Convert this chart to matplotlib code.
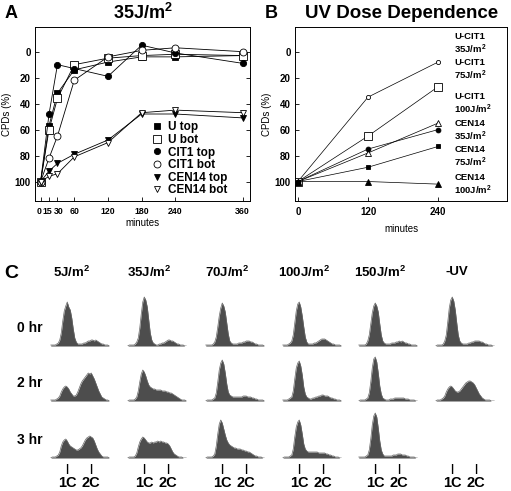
import matplotlib.pyplot as plt
import matplotlib.transforms as mtransforms
import numpy as np

plt.rcParams["font.family"] = ["Liberation Sans", "DejaVu Sans"]
plt.rcParams["font.weight"] = "bold"
plt.rcParams["mathtext.fontset"] = "custom"
plt.rcParams["mathtext.bf"] = "Liberation Sans:bold"
plt.rcParams["mathtext.rm"] = "Liberation Sans:bold"

W, H = 511, 491

# Panel A: repair at 35 J/m2
MINUTES = [0, 15, 30, 60, 120, 180, 240, 360]
U_TOP = [100, 57, 32, 14, 8, 4, 4, 3]
U_BOT = [100, 60, 36, 10, 5, 3, 2, 3]
CIT1_TOP = [100, 48, 10, 13, 19, -5, 1, 9]
CIT1_BOT = [100, 82, 65, 22, 4, -1, -3, 0]
CEN14_TOP = [100, 92, 86, 79, 68, 48, 48, 51]
CEN14_BOT = [100, 96, 94, 81, 70, 47, 45, 47]

# Panel B: dose dependence
DOSE_MIN = [0, 120, 240]
UCIT1_35 = [100, 35, 8]
UCIT1_75 = [100, 65, 27]
UCIT1_100 = [100, 78, 55]
CEN14_35 = [100, 75, 60]
CEN14_75 = [100, 89, 73]
CEN14_100 = [100, 100, 102]
B_LABELS = ["U-CIT1\n35J/m$^\\mathbf{2}$", "U-CIT1\n75J/m$^\\mathbf{2}$",
            "U-CIT1\n100J/m$^\\mathbf{2}$", "CEN14\n35J/m$^\\mathbf{2}$",
            "CEN14\n75J/m$^\\mathbf{2}$", "CEN14\n100J/m$^\\mathbf{2}$"]
B_LABEL_Y = [-6, 14, 40, 61, 81, 103]

# Panel C: FACS profiles (bin heights)
C_COLS = ["5J/m$^\\mathbf{2}$", "35J/m$^\\mathbf{2}$", "70J/m$^\\mathbf{2}$",
          "100J/m$^\\mathbf{2}$", "150J/m$^\\mathbf{2}$", "-UV"]
C_ROWS = ["0 hr", "2 hr", "3 hr"]
HIST_0HR = [
    [1, 1, 1, 1, 2, 3, 6, 13, 25, 35, 40, 44, 39, 36, 28, 17, 8, 4, 2, 2,
     2, 2, 3, 3, 4, 5, 5, 6, 6, 5, 6, 5, 4, 3, 2, 2, 1, 1, 1, 0],
    [0, 1, 1, 1, 1, 2, 4, 8, 18, 32, 44, 49, 46, 39, 26, 13, 6, 3, 2, 1,
     1, 2, 2, 3, 3, 4, 5, 6, 6, 5, 5, 4, 3, 2, 2, 1, 1, 1, 0, 0],
    [1, 1, 1, 1, 1, 2, 4, 9, 19, 30, 38, 43, 40, 34, 23, 12, 5, 3, 2, 2,
     2, 2, 3, 3, 3, 4, 4, 5, 5, 5, 4, 4, 3, 2, 2, 1, 1, 1, 1, 0],
    [1, 1, 1, 1, 2, 3, 5, 11, 23, 35, 42, 44, 39, 30, 19, 9, 4, 2, 2, 2,
     2, 3, 3, 4, 5, 6, 7, 7, 7, 6, 5, 4, 3, 2, 2, 1, 1, 1, 1, 0],
    [1, 1, 1, 1, 1, 2, 5, 11, 22, 33, 40, 43, 40, 34, 22, 11, 5, 3, 2, 2,
     2, 2, 3, 3, 3, 4, 4, 5, 4, 5, 4, 3, 3, 2, 2, 1, 1, 1, 1, 0],
    [0, 1, 1, 1, 1, 2, 5, 11, 24, 38, 46, 49, 45, 36, 23, 11, 5, 3, 2, 2,
     2, 2, 3, 3, 4, 4, 5, 5, 5, 5, 4, 4, 3, 2, 2, 1, 1, 1, 0, 0],
]
HIST_2HR = [
    [1, 1, 1, 1, 2, 3, 5, 9, 12, 14, 15, 14, 12, 9, 7, 5, 5, 6, 9, 13,
     17, 20, 22, 24, 26, 28, 27, 28, 25, 22, 18, 14, 10, 7, 4, 3, 2, 1, 1, 0],
    [0, 1, 1, 1, 1, 2, 4, 10, 19, 27, 31, 29, 25, 20, 16, 14, 13, 12, 12, 11,
     11, 11, 11, 10, 10, 10, 9, 9, 8, 8, 7, 6, 5, 4, 3, 2, 1, 1, 1, 0],
    [0, 1, 1, 1, 1, 2, 3, 8, 19, 31, 38, 41, 37, 28, 17, 9, 6, 5, 4, 4,
     4, 4, 4, 4, 4, 5, 5, 5, 4, 4, 4, 3, 3, 2, 2, 1, 1, 1, 1, 0],
    [1, 1, 1, 1, 2, 3, 4, 10, 22, 33, 38, 40, 35, 26, 14, 7, 4, 3, 2, 2,
     3, 3, 4, 4, 5, 5, 6, 6, 5, 5, 5, 4, 3, 3, 2, 2, 1, 1, 1, 0],
    [0, 1, 1, 1, 1, 2, 3, 8, 19, 33, 42, 44, 39, 28, 15, 7, 3, 2, 1, 1,
     1, 2, 2, 2, 3, 3, 3, 3, 3, 3, 3, 2, 2, 2, 1, 1, 1, 1, 0, 0],
    [0, 1, 1, 1, 2, 3, 5, 9, 12, 14, 15, 14, 12, 10, 9, 9, 10, 12, 14, 16,
     18, 19, 20, 20, 19, 18, 16, 13, 10, 7, 5, 3, 2, 1, 1, 1, 1, 0, 0, 0],
]
HIST_3HR = [
    [0, 1, 1, 1, 2, 3, 6, 12, 16, 18, 19, 17, 14, 12, 11, 10, 9, 8, 8, 9,
     10, 12, 15, 18, 20, 21, 22, 21, 20, 17, 13, 9, 6, 4, 2, 1, 1, 1, 1, 0],
    [0, 1, 1, 1, 1, 2, 5, 11, 16, 19, 21, 20, 18, 16, 15, 15, 16, 15, 16, 16,
     17, 16, 17, 16, 16, 15, 15, 14, 12, 9, 6, 4, 3, 2, 1, 1, 1, 0, 0, 0],
    [0, 1, 1, 1, 1, 2, 4, 12, 24, 34, 38, 35, 29, 23, 18, 15, 13, 12, 11, 10,
     10, 9, 9, 9, 8, 8, 7, 7, 6, 6, 5, 4, 3, 2, 2, 1, 1, 1, 0, 0],
    [0, 1, 1, 1, 1, 2, 3, 9, 21, 31, 36, 38, 33, 24, 14, 9, 7, 6, 6, 6,
     6, 6, 6, 6, 5, 5, 5, 5, 5, 4, 4, 3, 3, 2, 2, 1, 1, 1, 0, 0],
    [1, 1, 1, 1, 1, 2, 3, 8, 19, 33, 42, 45, 41, 30, 17, 8, 4, 2, 2, 2,
     2, 2, 2, 3, 3, 3, 4, 4, 4, 3, 3, 3, 2, 2, 1, 1, 1, 1, 0, 0],
    None,
]


def add_ax(fig, x0, y0, x1, y1):
    return fig.add_axes([x0 / W, 1 - y1 / H, (x1 - x0) / W, (y1 - y0) / H])


def ftext(fig, x, y, s, **kw):
    fig.text(x / W, 1 - y / H, s, **kw)


fig = plt.figure(figsize=(W / 100, H / 100), dpi=100)

# ---- Panel A
ax = add_ax(fig, 35, 27, 250, 201)
series_a = [
    (U_TOP, "s", "black", 4.5, "U top"),
    (U_BOT, "s", "white", 5.5, "U bot"),
    (CIT1_TOP, "o", "black", 4.5, "CIT1 top"),
    (CIT1_BOT, "o", "white", 5, "CIT1 bot"),
    (CEN14_TOP, "v", "black", 4.5, "CEN14 top"),
    (CEN14_BOT, "v", "white", 5, "CEN14 bot"),
]
for ys, mk, fc, ms, lab in series_a:
    ax.plot(MINUTES, ys, color="black", lw=0.6, marker=mk, mfc=fc,
            mec="black", mew=0.6, ms=ms, label=lab)
ax.set_xlim(-10, 373)
ax.set_ylim(115, -19)
ax.set_xticks(MINUTES)
ax.set_yticks([0, 20, 40, 60, 80, 100])
ax.tick_params(direction="in", length=3, width=0.6, labelsize=7, pad=3,
               right=True)
ax.tick_params(axis="x", pad=4, labelsize=6.3)
# the 15 and 30 labels sit very close; nudge them apart a little
for lab, dx in zip(ax.get_xticklabels()[:3], [-1.5, -1.2, 1.2]):
    off = mtransforms.ScaledTranslation(dx / 100, 0, fig.dpi_scale_trans)
    lab.set_transform(lab.get_transform() + off)
for s in ax.spines.values():
    s.set_linewidth(0.7)
ax.set_ylabel("CPDs (%)", fontsize=7, labelpad=2)
ax.set_xlabel("minutes", fontsize=7, labelpad=2)
leg = ax.legend(loc="lower left", bbox_to_anchor=(0.53, 0.0), frameon=False,
                fontsize=8.5, handlelength=0.6, handletextpad=0.6,
                labelspacing=0.05, borderaxespad=0.0)
for h in leg.legend_handles:
    h.set_linestyle("none")
ax.set_title("35J/m$^\\mathbf{2}$", fontsize=13, fontweight="bold", pad=6)
ftext(fig, 5, 13, "A", fontsize=13, fontweight="bold", va="center")

# ---- Panel B
bx = add_ax(fig, 295, 27, 507, 201)
series_b = [
    (UCIT1_35, "o", "white", 3),
    (UCIT1_75, "s", "white", 6),
    (UCIT1_100, "^", "white", 4.5),
    (CEN14_35, "o", "black", 3.5),
    (CEN14_75, "s", "black", 3.5),
    (CEN14_100, "^", "black", 4.5),
]
for ys, mk, fc, ms in series_b:
    bx.plot(DOSE_MIN, ys, color="black", lw=0.5, marker=mk, mfc=fc,
            mec="black", mew=0.6, ms=ms)
for lab, y in zip(B_LABELS, B_LABEL_Y):
    bx.text(268, y, lab, fontsize=6.8, fontweight="bold", va="center",
            ha="left", linespacing=1.15)
bx.set_xlim(-5, 358)
bx.set_ylim(115, -19)
bx.set_xticks(DOSE_MIN)
bx.set_yticks([0, 20, 40, 60, 80, 100])
bx.tick_params(direction="in", length=3, width=0.6, labelsize=7, pad=3)
bx.tick_params(axis="x", pad=4)
for s in bx.spines.values():
    s.set_linewidth(0.7)
bx.set_ylabel("CPDs (%)", fontsize=7, labelpad=2)
bx.set_xlabel("minutes", fontsize=7, labelpad=5)
ftext(fig, 265, 13, "B", fontsize=13, fontweight="bold", va="center")
ftext(fig, 402, 13, "UV Dose Dependence", fontsize=13.5, fontweight="bold",
      va="center", ha="center")

# ---- Panel C
col_x = [50, 127, 205, 282, 358, 435]
base_y = [346, 401, 458]
hist_w, hist_h = 60, 50
ftext(fig, 4, 273, "C", fontsize=14, fontweight="bold", va="center")
for c, (x0, name) in enumerate(zip(col_x, C_COLS)):
    ftext(fig, x0 + 22, 272, name, fontsize=9.5, fontweight="bold",
          ha="center", va="center")
    for r, rows in enumerate([HIST_0HR, HIST_2HR, HIST_3HR]):
        vals = rows[c]
        if vals is None:
            continue
        hx = add_ax(fig, x0, base_y[r] - hist_h, x0 + hist_w, base_y[r])
        bins = np.arange(len(vals))
        hx.fill_between(bins, vals, color="#4d4d4d", lw=0)
        hx.plot(bins, vals, color="#666666", lw=0.5)
        hx.set_xlim(-0.5, len(vals) - 0.5)
        hx.set_ylim(0, hist_h)
        hx.axis("off")
    for lab, off in [("1C", 17), ("2C", 41)]:
        ftext(fig, x0 + off, 469, "|", fontsize=8, ha="center", va="center")
        ftext(fig, x0 + off, 483, lab, fontsize=10.5, fontweight="bold",
              ha="center", va="center")
for r, lab in enumerate(C_ROWS):
    ftext(fig, 17, base_y[r] - 18, lab, fontsize=10, fontweight="bold",
          ha="left", va="center")

fig.savefig("out.png", dpi=100)
